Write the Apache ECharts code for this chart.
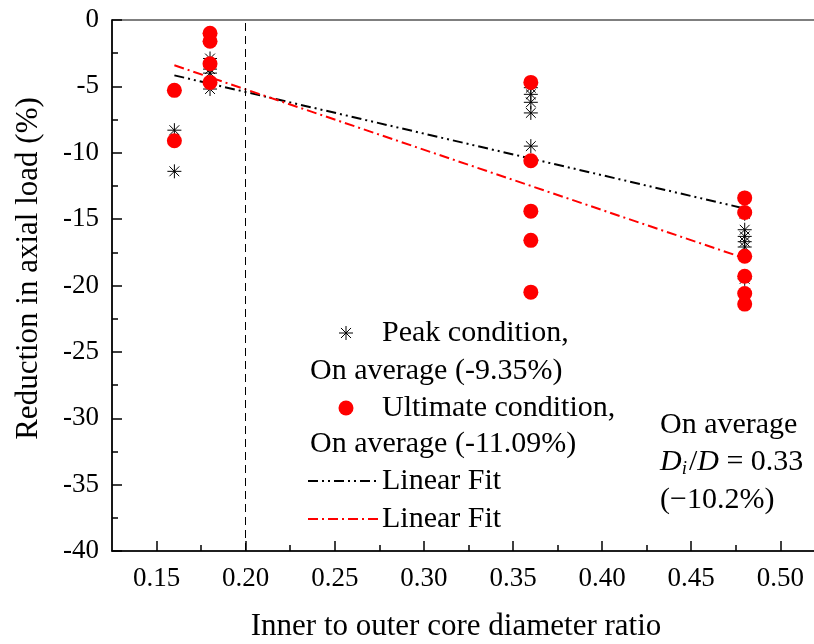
<!DOCTYPE html>
<html>
<head>
<meta charset="utf-8">
<script src="https://cdn.jsdelivr.net/npm/echarts@6/dist/echarts.min.js"></script>
<style>
  html, body { margin: 0; padding: 0; background: #fff; }
  #chart { width: 814px; height: 644px; }
</style>
</head>
<body>
<div id="chart"></div>
<script>
// Diameter ratios tested
const ratios = [0.16, 0.18, 0.36, 0.48];

// Reduction in axial load (%) at peak condition, per ratio
const peakValues = [
  [-8.3, -11.4],
  [-2.9, -3.7, -4.0, -5.2],
  [-5.1, -5.6, -6.2, -7.0, -9.5],
  [-13.4, -14.6, -15.8, -16.3, -16.7, -17.1, -19.5]
];

// Reduction in axial load (%) at ultimate condition, per ratio
const ultimateValues = [
  [-5.3, -9.1],
  [-1.0, -1.6, -3.3, -4.7],
  [-4.7, -10.6, -14.4, -16.6, -20.5],
  [-13.4, -14.5, -17.8, -19.3, -20.6, -21.4]
];

// Linear fits evaluated at the ends of the tested range
const fitX = [0.16, 0.48];
const peakFit = [-4.17, -14.2];
const ultimateFit = [-3.41, -17.95];

// Reference ratio marked by the dashed line
const refRatio = 0.20;

// Axis ticks
const xMajorTicks = [0.15, 0.20, 0.25, 0.30, 0.35, 0.40, 0.45, 0.50];
const xMinorTicks = [0.175, 0.225, 0.275, 0.325, 0.375, 0.425, 0.475];

const toPairs = (groups) => groups.flatMap((vals, i) => vals.map(v => [ratios[i], v]));

const SERIF = 'Liberation Serif';
const STAR = 'path://M10 0L10 20M0 10L20 10M3 3L17 17M3 17L17 3';
const LEGEND_FONT = '30px "Liberation Serif"';

// Asterisk legend glyph built from four strokes around (cx, cy)
function starGlyph(cx, cy, r) {
  const d = r * 0.72;
  const seg = [[0, -r, 0, r], [-r, 0, r, 0], [-d, -d, d, d], [-d, d, d, -d]];
  return seg.map(s => ({
    type: 'line',
    shape: { x1: cx + s[0], y1: cy + s[1], x2: cx + s[2], y2: cy + s[3] },
    style: { stroke: '#000', lineWidth: 1 }
  }));
}

function label(x, y, text, extra) {
  return { type: 'text', x: x, y: y,
           style: Object.assign({ text: text, font: LEGEND_FONT, fill: '#000', verticalAlign: 'middle' }, extra || {}) };
}

const chart = echarts.init(document.getElementById('chart'));

const option = {
  animation: false,
  backgroundColor: '#fff',
  grid: { left: 112, top: 20, right: -2, bottom: 93, show: true, outerBoundsMode: 'none', containLabel: false,
          borderColor: '#000', borderWidth: 1.2, backgroundColor: 'transparent' },
  xAxis: [
    {
      type: 'value', min: 0.125, max: 0.52,
      name: 'Inner to outer core diameter ratio',
      nameLocation: 'middle', nameGap: 60,
      nameTextStyle: { fontFamily: SERIF, fontSize: 31, color: '#000', padding: [0, 16, 0, 0] },
      axisLine: { show: true, onZero: false, lineStyle: { color: '#000', width: 1.5 } },
      axisTick: { show: true, inside: true, length: 10, customValues: xMajorTicks,
                  lineStyle: { color: '#000', width: 1.5 } },
      axisLabel: { customValues: xMajorTicks, margin: 14, fontFamily: SERIF, fontSize: 27, color: '#000',
                   formatter: v => v.toFixed(2) },
      splitLine: { show: false }
    },
    {
      type: 'value', min: 0.125, max: 0.52, position: 'bottom',
      axisLine: { show: false, onZero: false },
      axisTick: { show: true, inside: true, length: 6, customValues: xMinorTicks,
                  lineStyle: { color: '#000', width: 1.5 } },
      axisLabel: { show: false },
      splitLine: { show: false }
    }
  ],
  yAxis: {
    type: 'value', min: -40, max: 0, interval: 5,
    name: 'Reduction in axial load (%)',
    nameLocation: 'middle', nameGap: 68,
    nameTextStyle: { fontFamily: SERIF, fontSize: 31, color: '#000', padding: [0, 0, 0, 34] },
    axisLine: { show: true, onZero: false, lineStyle: { color: '#000', width: 1.5 } },
    axisTick: { show: true, inside: true, length: 10, lineStyle: { color: '#000', width: 1.5 } },
    minorTick: { show: true, splitNumber: 2, length: 6, lineStyle: { color: '#000', width: 1.5 } },
    axisLabel: { margin: 13, fontFamily: SERIF, fontSize: 27, color: '#000' },
    splitLine: { show: false },
    minorSplitLine: { show: false }
  },
  series: [
    {
      name: 'Reference ratio', type: 'line', data: [], silent: true,
      markLine: {
        silent: true, symbol: ['none', 'none'], label: { show: false },
        lineStyle: { color: '#000', width: 1, type: [8, 5] },
        data: [{ xAxis: refRatio }]
      }
    },
    {
      name: 'Peak fit', type: 'line', showSymbol: false, z: 3,
      data: fitX.map((x, i) => [x, peakFit[i]]),
      lineStyle: { color: '#000', width: 2, type: [10, 4, 2, 4, 2, 4] }
    },
    {
      name: 'Ultimate fit', type: 'line', showSymbol: false, z: 3,
      data: fitX.map((x, i) => [x, ultimateFit[i]]),
      lineStyle: { color: '#ff0000', width: 2, type: [10, 4, 2, 4] }
    },
    {
      name: 'Peak condition', type: 'scatter', z: 4,
      data: toPairs(peakValues),
      symbol: STAR, symbolSize: 14,
      itemStyle: { color: 'rgba(0,0,0,0)', borderColor: '#000', borderWidth: 1, opacity: 1 }
    },
    {
      name: 'Ultimate condition', type: 'scatter', z: 5,
      data: toPairs(ultimateValues),
      symbol: 'circle', symbolSize: 15,
      itemStyle: { color: '#ff0000', opacity: 1 }
    }
  ],
  graphic: [
    // Legend
    ...starGlyph(346, 333, 7),
    label(382, 333, 'Peak condition,'),
    label(310, 371, 'On average (-9.35%)'),
    { type: 'circle', shape: { cx: 346, cy: 408, r: 7.5 }, style: { fill: '#ff0000' } },
    label(382, 408, 'Ultimate condition,'),
    label(310, 444, 'On average (-11.09%)'),
    { type: 'line', shape: { x1: 308, y1: 481, x2: 378, y2: 481 },
      style: { stroke: '#000', lineWidth: 2, lineDash: [10, 4, 2, 4, 2, 4] } },
    label(382, 481, 'Linear Fit'),
    { type: 'line', shape: { x1: 308, y1: 519, x2: 378, y2: 519 },
      style: { stroke: '#ff0000', lineWidth: 2, lineDash: [10, 4, 2, 4] } },
    label(382, 519, 'Linear Fit'),
    // Overall average note
    label(660, 425, 'On average'),
    { type: 'text', x: 660, y: 462, style: {
        text: '{it|D}{sub|i}{n|/}{it|D}{n| = 0.33}', verticalAlign: 'middle',
        rich: {
          it: { fontFamily: SERIF, fontSize: 30, fontStyle: 'italic', fill: '#000' },
          sub: { fontFamily: SERIF, fontSize: 19, fontStyle: 'italic', fill: '#000', verticalAlign: 'bottom', padding: [14, 2, 0, 0] },
          n: { fontFamily: SERIF, fontSize: 30, fill: '#000' }
        } } },
    label(660, 500, '(\u221210.2%)')
  ]
};

chart.setOption(option);
</script>
</body>
</html>
